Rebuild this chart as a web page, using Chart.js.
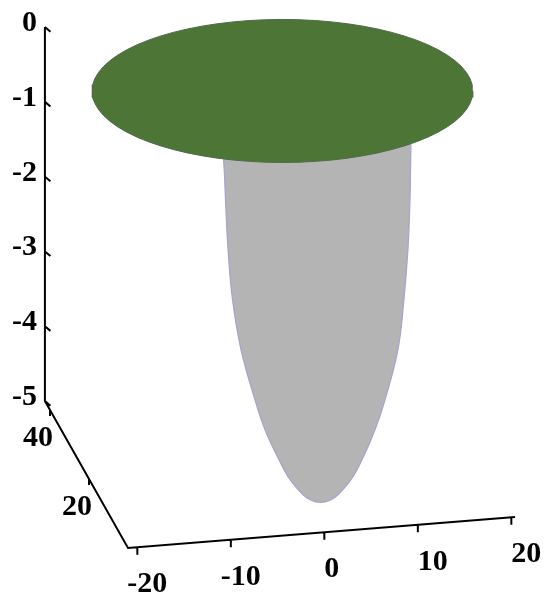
<!DOCTYPE html>
<html>
<head>
<meta charset="utf-8">
<script src="https://cdn.jsdelivr.net/npm/chart.js@4"></script>
<style>
    html, body { margin: 0; padding: 0; background: #fff; }
    #wrap { width: 545px; height: 601px; }
</style>
</head>
<body>
<div id="wrap"><canvas id="bowlChart"></canvas></div>
<script>
// axis ticks
const xTicks = [-20, -10, 0, 10, 20];
const yTicks = [20, 40];
const zTicks = [0, -1, -2, -3, -4, -5];
const xRange = [-21, 20.4];
const yRange = [0, 42.6];
const zFloor = -5;

// grey bowl outline (plane units: x along the X axis, z along the vertical axis)
const bowlLeftX = [-10.84, -10.68, -10.57, -10.30, -9.82, -8.91, -7.42, -6.35, -4.85, -3.67, -2.28, -1.48];
const bowlLeftZ = [0.110, -0.224, -0.555, -1.223, -1.892, -2.560, -3.229, -3.630, -4.030, -4.298, -4.498, -4.569];
const bowlTip = [-0.41, -4.602];
const bowlRightX = [0.66, 1.46, 2.85, 4.03, 5.42, 6.49, 7.87, 8.51, 8.94, 9.16, 9.21, 9.27];
const bowlRightZ = [-4.569, -4.498, -4.298, -4.030, -3.630, -3.229, -2.560, -1.892, -1.223, -0.555, -0.224, 0.244];

// green lid on top of the bowl
const lidCenter = [-4.48, 0.90];
const lidRadius = [20.37, 0.956];

// oblique view: 3d point -> plane of the chart
const project = (X, Y, Z) => ({ x: X - 0.2086 * Y, y: Z + 0.01003 * X + 0.04612 * Y });
const gap = { x: null, y: null };

// axis frame + tick marks
const axisPts = [
    project(xRange[0], yRange[1], 0),
    project(xRange[0], yRange[1], zFloor),
    project(xRange[0], yRange[0], zFloor),
    project(xRange[1], yRange[0], zFloor),
    gap
];
zTicks.forEach(z => {
    axisPts.push(project(xRange[0], yRange[1], z), project(xRange[0] + 0.3, yRange[1] - 1.4, z), gap);
});
xTicks.forEach(t => {
    axisPts.push(project(t, yRange[0], zFloor), project(t, yRange[0], zFloor - 0.1), gap);
});
yTicks.forEach(t => {
    axisPts.push(project(xRange[0], t, zFloor), project(xRange[0], t, zFloor - 0.08), gap);
});

// bowl: down the left side, round the tip, up the right side
const bowlPts = bowlLeftX.map((x, i) => ({ x: x, y: bowlLeftZ[i] }))
    .concat([{ x: bowlTip[0], y: bowlTip[1] }])
    .concat(bowlRightX.map((x, i) => ({ x: x, y: bowlRightZ[i] })));

// lid rim
const lidPts = [];
for (let a = 0; a <= 360; a += 5) {
    const r = a * Math.PI / 180;
    lidPts.push({ x: lidCenter[0] + lidRadius[0] * Math.cos(r), y: lidCenter[1] + lidRadius[1] * Math.sin(r) });
}

const axisLabels = {
    id: 'axisLabels',
    afterDatasetsDraw(chart) {
        const { ctx, scales: { x, y } } = chart;
        const at = (X, Y, Z) => {
            const p = project(X, Y, Z);
            return [x.getPixelForValue(p.x), y.getPixelForValue(p.y)];
        };
        ctx.save();
        ctx.font = 'bold 30px "Liberation Serif", "Times New Roman", serif';
        ctx.fillStyle = '#000';
        ctx.textBaseline = 'alphabetic';

        ctx.textAlign = 'right';
        zTicks.forEach(z => {
            const [px, py] = at(xRange[0], yRange[1], z);
            ctx.fillText(String(z), px - 8, py + 4);
        });

        ctx.textAlign = 'center';
        yTicks.forEach(t => {
            const [px, py] = at(xRange[0], t, zFloor);
            ctx.fillText(String(t), px - 12, py + 36);
        });

        ctx.textAlign = 'left';
        const dash = ctx.measureText('-').width;
        xTicks.forEach(t => {
            const [px, py] = at(t, yRange[0], zFloor);
            ctx.fillText(String(t), px - (t < 0 ? dash : 0), py + 45);
        });
        ctx.restore();
    }
};

const bowlChart = new Chart(document.getElementById('bowlChart'), {
    type: 'scatter',
    data: {
        datasets: [{
            data: lidPts,
            showLine: true,
            fill: 'shape',
            backgroundColor: '#4d7536',
            borderColor: '#4f6a4a',
            borderWidth: 1,
            pointRadius: 0
        }, {
            data: bowlPts,
            showLine: true,
            tension: 0.4,
            fill: 'shape',
            backgroundColor: '#b4b4b4',
            borderColor: '#a4a4d0',
            borderWidth: 1.2,
            pointRadius: 0
        }, {
            data: axisPts,
            showLine: true,
            borderColor: '#000',
            borderWidth: 2,
            pointRadius: 0
        }]
    },
    options: {
        responsive: true,
        maintainAspectRatio: false,
        animation: false,
        layout: { padding: 0 },
        plugins: {
            legend: { display: false },
            tooltip: { enabled: false }
        },
        scales: {
            x: { type: 'linear', min: -34.69, max: 23.60, display: false },
            y: { type: 'linear', min: -5.919, max: 2.116, display: false }
        }
    },
    plugins: [axisLabels]
});
</script>
</body>
</html>
